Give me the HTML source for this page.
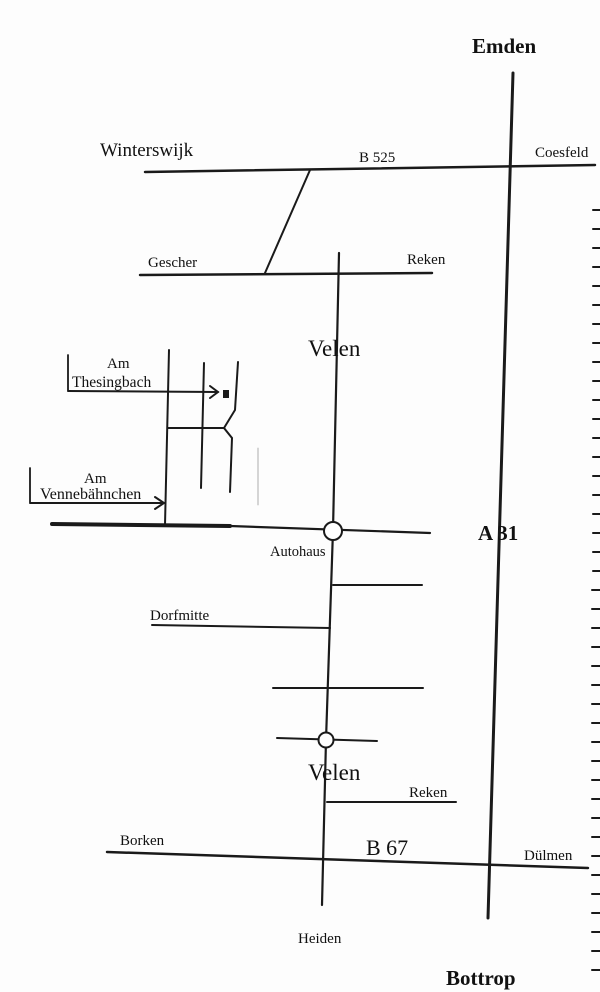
<!DOCTYPE html>
<html><head><meta charset="utf-8"><style>
html,body{margin:0;padding:0;background:#fff}
svg{display:block}
text{font-family:"Liberation Serif",serif;fill:#111}
</style></head><body>
<svg width="600" height="992" viewBox="0 0 600 992" xmlns="http://www.w3.org/2000/svg">
<rect width="600" height="992" fill="#fdfdfd"/>
<g stroke="#1a1a1a" fill="none" stroke-linecap="round">
<line x1="513" y1="73" x2="488" y2="918" stroke-width="3"/>
<line x1="145" y1="172" x2="595" y2="165" stroke-width="2.5"/>
<line x1="310" y1="170" x2="265" y2="273" stroke-width="2"/>
<line x1="140" y1="275" x2="432" y2="273" stroke-width="2.5"/>
<polyline points="339,253 333,530 326,740 322,905" stroke-width="2.2"/>
<line x1="68" y1="355" x2="68" y2="390" stroke-width="1.8"/>
<line x1="68" y1="391" x2="218" y2="392" stroke-width="2"/>
<polyline points="210,386 218,392 210,398" stroke-width="2"/>
<rect x="223" y="390" width="6" height="8" fill="#1a1a1a" stroke="none"/>
<line x1="169" y1="350" x2="165" y2="525" stroke-width="2"/>
<line x1="204" y1="363" x2="201" y2="488" stroke-width="2"/>
<polyline points="238,362 235,410 224,428 232,438 230,492" stroke-width="2"/>
<line x1="168" y1="428" x2="224" y2="428" stroke-width="2"/>
<line x1="258" y1="448" x2="258" y2="505" stroke-width="0.8" stroke="#999"/>
<line x1="30" y1="468" x2="30" y2="502" stroke-width="1.8"/>
<line x1="30" y1="503" x2="164" y2="503" stroke-width="2"/>
<polyline points="155,497 164,503 155,509" stroke-width="2"/>
<line x1="52" y1="524" x2="230" y2="526" stroke-width="4"/>
<line x1="230" y1="526" x2="430" y2="533" stroke-width="2.2"/>
<circle cx="333" cy="531" r="9" fill="#fff" stroke-width="2"/>
<line x1="333" y1="585" x2="422" y2="585" stroke-width="2"/>
<line x1="152" y1="625" x2="330" y2="628" stroke-width="2"/>
<line x1="273" y1="688" x2="423" y2="688" stroke-width="2"/>
<line x1="277" y1="738" x2="377" y2="741" stroke-width="2"/>
<circle cx="326" cy="740" r="7.5" fill="#fff" stroke-width="2"/>
<line x1="327" y1="802" x2="456" y2="802" stroke-width="2"/>
<line x1="107" y1="852" x2="588" y2="868" stroke-width="2.5"/>
<g stroke-width="2">
<line x1="593" y1="210" x2="600" y2="210"/><line x1="593" y1="229" x2="600" y2="229"/><line x1="593" y1="248" x2="600" y2="248"/><line x1="593" y1="267" x2="600" y2="267"/><line x1="593" y1="286" x2="600" y2="286"/><line x1="593" y1="305" x2="600" y2="305"/><line x1="593" y1="324" x2="600" y2="324"/><line x1="593" y1="343" x2="600" y2="343"/><line x1="593" y1="362" x2="600" y2="362"/><line x1="593" y1="381" x2="600" y2="381"/><line x1="593" y1="400" x2="600" y2="400"/><line x1="593" y1="419" x2="600" y2="419"/><line x1="593" y1="438" x2="600" y2="438"/><line x1="593" y1="457" x2="600" y2="457"/><line x1="593" y1="476" x2="600" y2="476"/><line x1="593" y1="495" x2="600" y2="495"/><line x1="593" y1="514" x2="600" y2="514"/><line x1="593" y1="533" x2="600" y2="533"/><line x1="593" y1="552" x2="600" y2="552"/><line x1="593" y1="571" x2="600" y2="571"/><line x1="592" y1="590" x2="600" y2="590"/><line x1="592" y1="609" x2="600" y2="609"/><line x1="592" y1="628" x2="600" y2="628"/><line x1="592" y1="647" x2="600" y2="647"/><line x1="592" y1="666" x2="600" y2="666"/><line x1="592" y1="685" x2="600" y2="685"/><line x1="592" y1="704" x2="600" y2="704"/><line x1="592" y1="723" x2="600" y2="723"/><line x1="592" y1="742" x2="600" y2="742"/><line x1="592" y1="761" x2="600" y2="761"/><line x1="592" y1="780" x2="600" y2="780"/><line x1="592" y1="799" x2="600" y2="799"/><line x1="592" y1="818" x2="600" y2="818"/><line x1="592" y1="837" x2="600" y2="837"/><line x1="592" y1="856" x2="600" y2="856"/><line x1="592" y1="875" x2="600" y2="875"/><line x1="592" y1="894" x2="600" y2="894"/><line x1="592" y1="913" x2="600" y2="913"/><line x1="592" y1="932" x2="600" y2="932"/><line x1="592" y1="951" x2="600" y2="951"/><line x1="592" y1="970" x2="600" y2="970"/>
</g>
</g>
<text x="472" y="53" font-size="21" font-weight="bold">Emden</text>
<text x="100" y="156" font-size="19">Winterswijk</text>
<text x="359" y="162" font-size="15">B 525</text>
<text x="535" y="157" font-size="15">Coesfeld</text>
<text x="148" y="267" font-size="15">Gescher</text>
<text x="407" y="264" font-size="15">Reken</text>
<text x="308" y="356" font-size="23">Velen</text>
<text x="107" y="368" font-size="15">Am</text>
<text x="72" y="387" font-size="15.5">Thesingbach</text>
<text x="84" y="483" font-size="15">Am</text>
<text x="40" y="499" font-size="16">Vennebähnchen</text>
<text x="270" y="556" font-size="14.5">Autohaus</text>
<text x="478" y="540" font-size="21" font-weight="bold">A 31</text>
<text x="150" y="620" font-size="15">Dorfmitte</text>
<text x="308" y="780" font-size="23">Velen</text>
<text x="409" y="797" font-size="15">Reken</text>
<text x="120" y="845" font-size="15">Borken</text>
<text x="366" y="855" font-size="22">B 67</text>
<text x="524" y="860" font-size="15">Dülmen</text>
<text x="298" y="943" font-size="15">Heiden</text>
<text x="446" y="985" font-size="21" font-weight="bold">Bottrop</text>
</svg>
</body></html>
